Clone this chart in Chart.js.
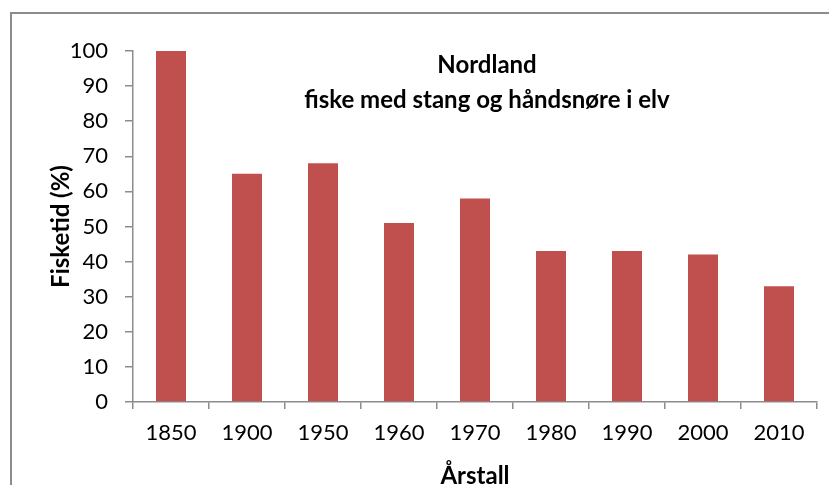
<!DOCTYPE html>
<html><head><meta charset="utf-8">
<script src="https://cdn.jsdelivr.net/npm/chart.js@4/dist/chart.umd.min.js"></script>
<style>
html,body{margin:0;padding:0;background:#fff;}
#wrap{position:relative;width:829px;height:485px;}
#frame{position:absolute;left:10px;top:12px;width:830px;height:480px;border-left:2px solid #8c8c8c;border-top:2px solid #8c8c8c;pointer-events:none;}
canvas{position:absolute;left:0;top:0;}
</style></head>
<body>
<div id="wrap"><canvas id="c" width="829" height="485"></canvas><div id="frame"></div></div>
<script>
const categories = ["1850","1900","1950","1960","1970","1980","1990","2000","2010"];
const fisketid = [100, 65, 68, 51, 58, 43, 43, 42, 33];
const titleLines = ["Nordland", "fiske med stang og håndsnøre i elv"];
const yTitle = "Fisketid (%)";
const xTitle = "Årstall";

const FONT = "Lato, 'Open Sans', sans-serif";

const innerTitle = {
  id: 'innerTitle',
  afterDraw(chart) {
    const ctx = chart.ctx, a = chart.chartArea;
    ctx.save();
    ctx.fillStyle = '#000';
    ctx.font = "bold 24px " + FONT;
    ctx.textAlign = 'center';
    ctx.textBaseline = 'middle';
    const cx = a.left + 354;
    ctx.fillText(titleLines[0], cx, a.top + 14);
    ctx.fillText(titleLines[1], cx, a.top + 49);
    ctx.restore();
  }
};

new Chart(document.getElementById('c'), {
  type: 'bar',
  data: {
    labels: categories,
    datasets: [{
      data: fisketid,
      backgroundColor: '#c0504d',
      borderWidth: 0,
      categoryPercentage: 1.0,
      barPercentage: 0.395
    }]
  },
  options: {
    responsive: false,
    animation: false,
    devicePixelRatio: 1,
    layout: { padding: { left: 0, top: 51, right: 12, bottom: 0 } },
    plugins: { legend: { display: false }, tooltip: { enabled: false }, title: { display: false } },
    scales: {
      x: {
        grid: { display: true, drawOnChartArea: false, offset: true, color: '#8c8c8c', tickLength: 7, lineWidth: 1.5 },
        border: { display: true, color: '#8c8c8c', width: 1.5 },
        ticks: { color: '#000', font: { family: FONT, size: 22 }, padding: 11, maxRotation: 0 },
        title: { display: true, text: xTitle, color: '#000', font: { family: FONT, size: 24, weight: 'bold', lineHeight: 1.0 }, padding: { top: 0, bottom: -3 } },
        afterFit(s) { s.height = 83; }
      },
      y: {
        min: 0, max: 100,
        grid: { display: true, drawOnChartArea: false, color: '#8c8c8c', tickLength: 8, lineWidth: 1.5 },
        border: { display: true, color: '#8c8c8c', width: 1.5 },
        ticks: { stepSize: 10, color: '#000', font: { family: FONT, size: 22 }, padding: 17 },
        title: { display: true, text: yTitle, color: '#000', font: { family: FONT, size: 24, weight: 'bold', lineHeight: 1.0 }, padding: { top: 49, bottom: 0 } },
        afterFit(s) { s.width = 133; }
      }
    }
  },
  plugins: [innerTitle]
});
</script>
</body></html>
